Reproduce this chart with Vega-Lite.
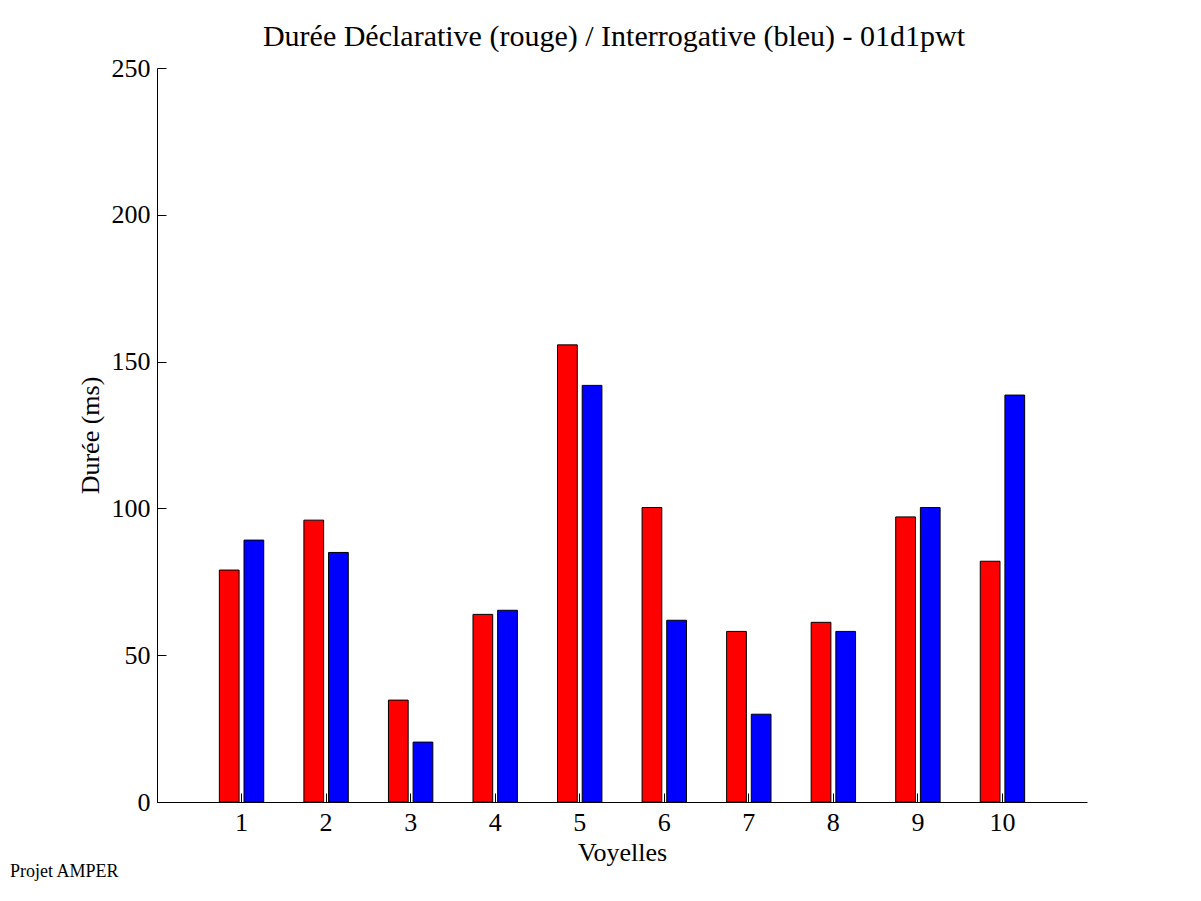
{
  "$schema": "https://vega.github.io/schema/vega-lite/v6.json",
  "autosize": {"type": "none"},
  "width": 930,
  "height": 734,
  "padding": {"left": 157, "top": 68, "right": 114, "bottom": 99},
  "background": "white",
  "title": {
    "text": "Durée Déclarative (rouge) / Interrogative (bleu) - 01d1pwt",
    "font": "Liberation Serif",
    "fontSize": 30,
    "fontWeight": "normal",
    "color": "black",
    "anchor": "middle",
    "baseline": "alphabetic",
    "offset": -21,
    "dx": -8
  },
  "config": {
    "view": {"stroke": null},
    "axis": {
      "labelFont": "Liberation Serif",
      "titleFont": "Liberation Serif",
      "labelColor": "black",
      "titleColor": "black",
      "domainColor": "black",
      "tickColor": "black",
      "grid": false,
      "titleFontWeight": "normal"
    }
  },
  "layer": [
    {
      "data": {
        "values": [
          {"voyelle": 1, "type": "Déclarative", "duree": 79.0},
          {"voyelle": 1, "type": "Interrogative", "duree": 89.2},
          {"voyelle": 2, "type": "Déclarative", "duree": 96.0},
          {"voyelle": 2, "type": "Interrogative", "duree": 85.0},
          {"voyelle": 3, "type": "Déclarative", "duree": 34.7},
          {"voyelle": 3, "type": "Interrogative", "duree": 20.4},
          {"voyelle": 4, "type": "Déclarative", "duree": 63.9},
          {"voyelle": 4, "type": "Interrogative", "duree": 65.3},
          {"voyelle": 5, "type": "Déclarative", "duree": 155.7},
          {"voyelle": 5, "type": "Interrogative", "duree": 141.9},
          {"voyelle": 6, "type": "Déclarative", "duree": 100.3},
          {"voyelle": 6, "type": "Interrogative", "duree": 61.9},
          {"voyelle": 7, "type": "Déclarative", "duree": 58.1},
          {"voyelle": 7, "type": "Interrogative", "duree": 29.9},
          {"voyelle": 8, "type": "Déclarative", "duree": 61.2},
          {"voyelle": 8, "type": "Interrogative", "duree": 58.1},
          {"voyelle": 9, "type": "Déclarative", "duree": 97.1},
          {"voyelle": 9, "type": "Interrogative", "duree": 100.3},
          {"voyelle": 10, "type": "Déclarative", "duree": 82.0},
          {"voyelle": 10, "type": "Interrogative", "duree": 138.6}
        ]
      },
      "mark": {"type": "bar", "stroke": "black", "strokeWidth": 1},
      "encoding": {
        "x": {
          "field": "voyelle",
          "type": "ordinal",
          "scale": {"paddingInner": 0.475, "paddingOuter": 0.7375},
          "axis": {
            "title": "Voyelles",
            "titleFontSize": 26,
            "titlePadding": 4,
            "labelFontSize": 26,
            "labelAngle": 0,
            "tickSize": -9,
            "labelPadding": 16,
            "domainWidth": 1,
            "tickWidth": 1
          }
        },
        "xOffset": {
          "field": "type",
          "type": "nominal",
          "scale": {"paddingInner": 0.2, "paddingOuter": 0}
        },
        "y": {
          "field": "duree",
          "type": "quantitative",
          "scale": {"domain": [0, 250], "nice": false},
          "axis": {
            "title": "Durée (ms)",
            "titleFontSize": 26,
            "titlePadding": 8,
            "labelFontSize": 26,
            "values": [0, 50, 100, 150, 200, 250],
            "tickSize": -9,
            "labelPadding": 16,
            "domainWidth": 1,
            "tickWidth": 1
          }
        },
        "color": {
          "field": "type",
          "type": "nominal",
          "scale": {"domain": ["Déclarative", "Interrogative"], "range": ["#ff0000", "#0000ff"]},
          "legend": null
        }
      }
    },
    {
      "data": {"values": [{"note": "Projet AMPER"}]},
      "mark": {
        "type": "text",
        "font": "Liberation Serif",
        "fontSize": 18,
        "align": "left",
        "baseline": "middle",
        "color": "black"
      },
      "encoding": {
        "text": {"field": "note"},
        "x": {"value": -147},
        "y": {"datum": -24}
      }
    }
  ]
}
